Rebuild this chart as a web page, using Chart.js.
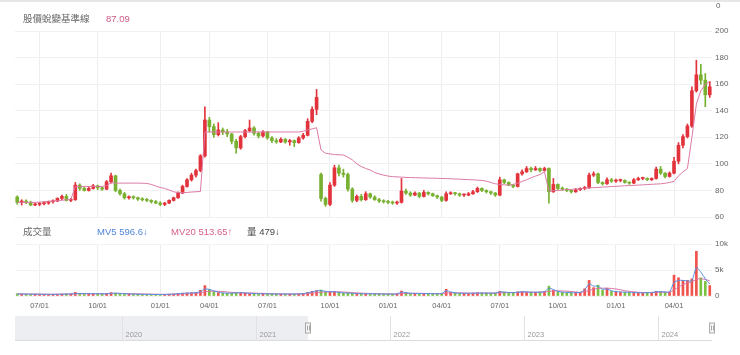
<!DOCTYPE html>
<html><head><meta charset="utf-8">
<script src="https://cdn.jsdelivr.net/npm/chart.js@4.4.1/dist/chart.umd.min.js"></script>
<style>
html,body{margin:0;padding:0;background:#fff;width:740px;height:355px;overflow:hidden;font-family:"Liberation Sans","Noto Sans CJK TC",sans-serif;}
canvas{position:absolute;left:0;}
.t{position:absolute;white-space:nowrap;font-size:9.5px;line-height:12px;}
</style></head><body>
<div style="position:absolute;left:0;top:0;width:740px;height:2px;background:#e6e6e6"></div>
<canvas id="price" width="740" height="225" style="top:0"></canvas>
<canvas id="vol" width="740" height="80" style="top:236px"></canvas>
<canvas id="nav" width="740" height="30" style="top:313px"></canvas>
<div class="t" style="left:716px;top:0px;font-size:8px;color:#666">0</div>
<div class="t" style="left:23px;top:13px;color:#666">股價蛻變基準線</div>
<div class="t" style="left:106px;top:13px;color:#cc5a86">87.09</div>
<div class="t" style="left:23px;top:226px;color:#666">成交量</div>
<div class="t" style="left:97px;top:226px;color:#4f86d8">MV5 596.6↓</div>
<div class="t" style="left:171px;top:226px;color:#d9608c">MV20 513.65↑</div>
<div class="t" style="left:247px;top:226px;color:#444">量 479↓</div>
<script>
const dates = [
'2021-05-28','2021-06-04','2021-06-11','2021-06-18','2021-06-25','2021-07-02','2021-07-09','2021-07-16','2021-07-23','2021-07-30',
'2021-08-06','2021-08-13','2021-08-20','2021-08-27','2021-09-03','2021-09-10','2021-09-17','2021-09-24','2021-10-01','2021-10-08',
'2021-10-15','2021-10-22','2021-10-29','2021-11-05','2021-11-12','2021-11-19','2021-11-26','2021-12-03','2021-12-10','2021-12-17',
'2021-12-24','2021-12-31','2022-01-07','2022-01-14','2022-01-21','2022-01-28','2022-02-11','2022-02-18','2022-02-25','2022-03-04',
'2022-03-11','2022-03-18','2022-03-25','2022-04-01','2022-04-08','2022-04-15','2022-04-22','2022-04-29','2022-05-06','2022-05-13',
'2022-05-20','2022-05-27','2022-06-03','2022-06-10','2022-06-17','2022-06-24','2022-07-01','2022-07-08','2022-07-15','2022-07-22',
'2022-07-29','2022-08-05','2022-08-12','2022-08-19','2022-08-26','2022-09-02','2022-09-09','2022-09-16','2022-09-23','2022-09-30',
'2022-10-07','2022-10-14','2022-10-21','2022-10-28','2022-11-04','2022-11-11','2022-11-18','2022-11-25','2022-12-02','2022-12-09',
'2022-12-16','2022-12-23','2022-12-30','2023-01-06','2023-01-13','2023-01-20','2023-02-03','2023-02-10','2023-02-17','2023-02-24',
'2023-03-03','2023-03-10','2023-03-17','2023-03-24','2023-03-31','2023-04-07','2023-04-14','2023-04-21','2023-04-28','2023-05-05',
'2023-05-12','2023-05-19','2023-05-26','2023-06-02','2023-06-09','2023-06-16','2023-06-23','2023-06-30','2023-07-07','2023-07-14',
'2023-07-21','2023-07-28','2023-08-04','2023-08-11','2023-08-18','2023-08-25','2023-09-01','2023-09-08','2023-09-15','2023-09-22',
'2023-09-29','2023-10-06','2023-10-13','2023-10-20','2023-10-27','2023-11-03','2023-11-10','2023-11-17','2023-11-24','2023-12-01',
'2023-12-08','2023-12-15','2023-12-22','2023-12-29','2024-01-05','2024-01-12','2024-01-19','2024-01-26','2024-02-02','2024-02-09',
'2024-02-16','2024-02-23','2024-03-01','2024-03-08','2024-03-15','2024-03-22','2024-03-29','2024-04-05','2024-04-12','2024-04-19',
'2024-04-26','2024-05-03','2024-05-10','2024-05-17','2024-05-24','2024-05-31'];
const tickLabels = ['07/01','10/01','01/01','04/01','07/01','10/01','01/01','04/01','07/01','10/01','01/01','04/01'];
const priceTicks = [60,80,100,120,140,160,180,200];
const volTicks = [0,5000,10000];
const volTickLabels = ['0','5k','10k'];
const openP = [
75,71,72,71,69,69.5,70,70.5,71.5,72,
74,75.5,72.5,73,84,81.5,80,81.5,83.5,82,
81,86.5,91,80,77.5,74.5,75,74.5,73.5,73,
72.5,71.5,70.5,69.5,70.5,72.5,74.5,78,83,88,
91.5,95,106,133,128,122,125.5,124,122.5,117,
112,120.5,125,127,123,121,124,119.5,117.5,116.5,
118.5,116.5,117.5,116,119.5,121.5,132,141,92,74,
69.5,84,97,93,92,81,72.5,75.5,73,77.5,
75,73,72,71.5,71,70.5,71,79.5,78,76.5,
78,75.5,78.5,77.5,76,75,72.5,77.5,78,77.5,
76.5,76.5,77.5,79,81.5,80,79,78,76.5,88,
86,84,83,92.5,94,96.5,95.5,96.5,95,96.5,
79,84.5,81.5,81,80,79,80.5,81.5,82,91.5,
92.5,86,85,88,87,87.5,87.5,86,85.5,88,
89,89,88,89,96,93,90.5,93,102,114,
120.5,128.5,155,167,163,152];
const highP = [
76,73,73,72,70.5,71,71.5,72,73,74.5,
76.5,77,74,86,85,82.5,82.5,84.5,84,82.5,
87.5,93,91.5,81,78.5,76,76,75,74.5,74,
73,72.5,71.5,71,73,75,79,84,89,93,
96,107,143,135,130,131,127,126,123,118.5,
121.5,126,133,128,124,125,124.5,120.5,119,119.5,
119,118.5,118,120.5,123,134,143,156,93,75,
86,99,99,96,93,82,76.5,77,79,78,
76,74,73,72.5,72,72,89,81,79,79,
78.5,80,79,78,76.5,75.5,79,79,78.5,78,
77.5,78.5,80,82.5,82,80.5,79.5,78.5,90,88.5,
86.5,84.5,93,95.5,98,97.5,98,97,97.5,97,
89,85,82.5,81.5,80.5,81.5,82,83,93,94,
93,86.5,89.5,89,88.5,88.5,88,86.5,89,90,
90,89.5,89.5,97.5,98,93.5,94,105,116,122,
130,158,178,175,168,162];
const lowP = [
69.5,69,70,68.5,68.5,68.5,69,69.5,70.5,71.5,
73,72,71.5,72.5,80,79.5,79.5,81,80.5,80,
80.5,85.5,79,76.5,73.5,73.5,73.5,72.5,72,71.5,
70.5,70,68.5,68.5,70,72,74,77.5,82.5,87,
90,94,105,124,120,121,122,120.5,115,108,
111,119.5,124,121.5,119.5,120,118.5,116,115.5,116,
115.5,114,113,115.5,118.5,121,131,137,72,68,
68.5,83,91,90,79.5,71,71.5,72,72.5,74,
72.5,71,70.5,70,69.5,69.5,70.5,77,75.5,76,
74.5,75,76.5,75.5,74,71.5,72,77,76.5,75.5,
75.5,76,77,78.5,79,78,77,75.5,76,85,
83.5,82,82.5,91.5,93.5,94,95,94,94.5,70.5,
78.5,80.5,80,79,78,78.5,80,80.5,81.5,90.5,
85,84,84.5,86,86,86.5,85.5,84.5,85,87.5,
88,87.5,87.5,88.5,92,89.5,90,92.5,100,112,
119.5,127.5,154,160,143,150];
const closeP = [
71,72,71,69,69.5,70,70.5,71.5,72,74,
75.5,72.5,73,84,81.5,80,81.5,83.5,82,81,
86.5,91,80,77.5,74.5,75,74.5,73.5,73,72.5,
71.5,70.5,69.5,70.5,72.5,74.5,78,83,88,91.5,
95,106,133,128,122,125.5,124,122.5,117,112,
120.5,125,127,123,121,124,119.5,117.5,116.5,118.5,
116.5,117.5,116,119.5,121.5,132,141,150,74,69.5,
84,97,93,92,81,72.5,75.5,73,77.5,75,
73,72,71.5,71,70.5,71,79.5,78,76.5,78,
75.5,78.5,77.5,76,75,72.5,77.5,78,77.5,76.5,
76.5,77.5,79,81.5,80,79,78,76.5,88,86,
84,83,92.5,94,96.5,95.5,96.5,95,96.5,79,
84.5,81.5,81,80,79,80.5,81.5,82,91.5,92.5,
86,85,88,87,87.5,87.5,86,85.5,88,89,
89,88,89,96,93,90.5,93,102,114,120.5,
128.5,155,167,163,152,158];
const baseline = [
71,71,71,71,71,71.2,71.5,71.8,72,72.3,
72.6,73,73.2,83,83,83,83,83,83,83,
83.5,85.8,85.6,85.5,85.5,85.5,85.5,85.5,85.4,85.3,
84.5,83.3,82.2,81.5,80.3,79,78.3,78.3,78.5,78.8,
79,79.2,124,124,124,124,124,124,124,124,
124,124,124,124,124,124,124,124,124,124,
124,124,124,124,124.5,125.5,126.3,127.2,110.4,108,
107.5,107,106.8,106.7,105,103,100,98,96.5,95.4,
93.5,92.4,91.5,90.8,90.4,90.2,90,89.8,89.7,89.6,
89.5,89.4,89.3,89.2,89.1,89,88.9,88.8,88.6,88.5,
88.3,88.1,88,87.7,87.5,87,86,85,84.5,84.2,
84,84.5,85.5,86.8,88,89.5,90.8,92,94,79.5,
79.8,80,80.3,80.6,80.8,81,81.3,81.6,81.9,82.1,
82.3,82.5,82.7,82.9,83.1,83.3,83.5,83.6,83.8,84,
84.2,84.4,84.6,84.8,85,85.4,86,86.8,91,94,
96.5,120,145,155,160,162];
const volume = [
420,380,350,330,360,340,320,300,320,350,
380,420,400,700,500,420,400,450,420,380,
500,650,550,420,380,350,330,320,300,300,
290,280,300,310,350,400,480,550,600,620,
700,1100,2000,1300,800,650,550,500,550,650,
700,550,500,450,420,430,400,380,370,380,
360,370,380,420,500,700,900,1050,1150,800,
750,900,650,550,600,500,450,420,450,430,
400,380,370,360,380,400,950,600,500,480,
460,480,450,440,430,500,1300,700,550,520,
500,520,550,600,580,560,540,560,900,750,
650,620,800,850,780,720,700,750,900,1900,
1100,800,700,650,620,640,700,1400,3000,1600,
2100,1100,1500,900,800,750,720,700,650,600,
620,650,700,900,850,750,800,4000,3500,3000,
3000,3300,8600,3500,2800,2000];
const mv5 = [
400,390,370,350,350,340,330,320,320,330,
350,380,400,470,500,480,460,450,440,420,
440,520,540,500,450,400,360,340,320,310,
300,290,290,300,330,370,440,500,560,600,
660,850,1350,1250,1000,750,600,540,540,600,
640,580,520,470,440,430,410,390,380,375,
370,370,375,400,460,620,820,980,1050,900,
800,820,700,600,580,520,470,440,440,430,
410,390,375,365,375,400,750,650,540,490,
470,470,455,445,435,480,1000,800,600,540,
510,515,540,580,580,565,550,555,780,760,
680,630,740,820,790,740,710,740,850,1500,
1250,900,750,680,640,640,680,1200,2300,1900,
1900,1300,1350,1000,850,780,740,710,670,620,
620,640,680,820,840,780,790,2600,3000,3000,
2900,3000,5400,4600,3300,2300];
const mv20 = [
380,380,375,370,365,360,350,345,340,340,
345,355,365,400,420,430,430,435,440,440,
445,470,490,490,480,460,440,420,400,380,
360,340,320,315,320,335,360,390,430,470,
520,620,820,900,920,900,850,780,700,660,
620,600,580,560,530,500,470,450,430,410,
400,390,385,390,410,460,540,630,720,780,
810,830,800,760,720,660,600,550,510,480,
460,440,425,410,400,395,460,500,510,520,
520,500,480,460,455,460,560,600,610,600,
580,560,545,545,550,555,560,560,600,630,
650,660,680,700,720,730,740,745,760,900,
960,980,970,930,870,780,700,800,1100,1300,
1450,1500,1500,1450,1350,1200,1000,900,800,720,
680,660,660,680,700,720,740,1200,1700,2200,
2500,2700,3200,3300,3200,2900];
const navYears = [2020,2021,2022,2023,2024];
const navRange = [2019.2, 2024.4];
const navSelection = [2021.387, 2024.4];

Chart.defaults.font.family = '"Liberation Sans","Noto Sans CJK TC",sans-serif';
const UP = '#e2333c', DOWN = '#78b030';
const isUp = closeP.map((c,i)=>c>=openP[i]);
const candleColors = isUp.map(u=>u?UP:DOWN);
const volColors = isUp.map(u=>u?'#f0524c':'#7cc242');
const quarterIdx = [];
dates.forEach((d,i)=>{
  if(i===0) return;
  const m = +d.slice(5,7), pm = +dates[i-1].slice(5,7);
  if([1,4,7,10].includes(m) && m!==pm) quarterIdx.push(i);
});
const xBase = {
  offset:true,
  grid:{offset:false,color:'#eeeeee',drawTicks:false},
  border:{display:false},
  afterBuildTicks:s=>{ s.ticks = s.ticks.filter(t=>quarterIdx.includes(t.value)); }
};

new Chart(document.getElementById('price'),{
  type:'bar',
  data:{labels:dates,datasets:[
    {type:'line',data:baseline,borderColor:'#dc7aa6',borderWidth:1,pointRadius:0,tension:0,order:0},
    {data:lowP.map((l,i)=>[l,highP[i]]),backgroundColor:candleColors,barThickness:1,grouped:false,order:2},
    {data:openP.map((o,i)=>[Math.min(o,closeP[i]),Math.max(o,closeP[i])]),backgroundColor:candleColors,barThickness:3,minBarLength:1,grouped:false,order:1}
  ]},
  options:{
    responsive:false,animation:false,devicePixelRatio:1,
    layout:{padding:{top:31,bottom:8,left:15,right:0}},
    plugins:{legend:{display:false},tooltip:{enabled:false}},
    scales:{
      x:Object.assign({},xBase,{ticks:{display:false,autoSkip:false},afterFit:s=>{s.height=0;}}),
      y:{position:'right',min:60,max:200,
        afterBuildTicks:s=>{s.ticks=priceTicks.map(v=>({value:v}));},
        grid:{color:'#f1f1f1',drawTicks:false},border:{display:false},
        ticks:{color:'#666',font:{size:8},padding:3},
        afterFit:s=>{s.width=28;}}
    }
  }
});

new Chart(document.getElementById('vol'),{
  type:'bar',
  data:{labels:dates,datasets:[
    {type:'line',data:mv5,borderColor:'#5a8ee0',borderWidth:1,pointRadius:0,tension:0.3,order:0},
    {type:'line',data:mv20,borderColor:'#d873a3',borderWidth:1,pointRadius:0,tension:0.3,order:0},
    {data:volume,backgroundColor:volColors,barThickness:2,order:1}
  ]},
  options:{
    responsive:false,animation:false,devicePixelRatio:1,
    layout:{padding:{top:8,bottom:0,left:15,right:0}},
    plugins:{legend:{display:false},tooltip:{enabled:false}},
    scales:{
      x:Object.assign({},xBase,{ticks:{color:'#666',font:{size:7.5},padding:5,autoSkip:false,maxRotation:0,
          callback:(v,i)=>tickLabels[i]},afterFit:s=>{s.height=20;}}),
      y:{position:'right',min:0,max:10000,
        afterBuildTicks:s=>{s.ticks=volTicks.map(v=>({value:v}));},
        grid:{color:'#f3f3f3',drawTicks:false},border:{display:false},
        ticks:{color:'#666',font:{size:8},padding:3,callback:v=>volTickLabels[volTicks.indexOf(v)]},
        afterFit:s=>{s.width=28;}}
    }
  }
});

const navPlugin = {
  id:'nav',
  beforeDraw(chart){
    const {ctx,chartArea:{left,right,top,bottom}} = chart;
    const x = chart.scales.x;
    const xs = x.getPixelForValue(navSelection[0]);
    const xe = x.getPixelForValue(navSelection[1]);
    ctx.save();
    ctx.fillStyle = '#eceef1';
    ctx.fillRect(left,top,xs-left,bottom-top);
    ctx.strokeStyle = '#dcdcdc'; ctx.lineWidth = 1;
    ctx.beginPath(); ctx.moveTo(left,bottom+0.5); ctx.lineTo(right,bottom+0.5); ctx.stroke();
    ctx.font = '7.5px "Liberation Sans",sans-serif';
    ctx.textBaseline = 'alphabetic';
    navYears.forEach(yr=>{
      const px = Math.round(x.getPixelForValue(yr))+0.5;
      ctx.strokeStyle = '#e2e2e2';
      ctx.beginPath(); ctx.moveTo(px,top); ctx.lineTo(px,bottom); ctx.stroke();
      ctx.fillStyle = '#999';
      ctx.fillText(String(yr),px+3,bottom-3);
    });
    [xs,xe].forEach(hx=>{
      const cy = (top+bottom)/2;
      ctx.fillStyle = '#f7f7f7'; ctx.strokeStyle = '#a8a8a8';
      ctx.fillRect(Math.round(hx)-2.5,cy-5,5,10);
      ctx.strokeRect(Math.round(hx)-2.5,cy-5,5,10);
      ctx.beginPath(); ctx.moveTo(Math.round(hx)-0.5,cy-2.5); ctx.lineTo(Math.round(hx)-0.5,cy+2.5);
      ctx.moveTo(Math.round(hx)+1.5,cy-2.5); ctx.lineTo(Math.round(hx)+1.5,cy+2.5); ctx.stroke();
    });
    ctx.restore();
  }
};
new Chart(document.getElementById('nav'),{
  type:'line',
  data:{datasets:[]},
  options:{
    responsive:false,animation:false,devicePixelRatio:1,
    layout:{padding:{top:3,bottom:3,left:15,right:28}},
    plugins:{legend:{display:false},tooltip:{enabled:false}},
    scales:{x:{type:'linear',min:navRange[0],max:navRange[1],display:false},y:{display:false,min:0,max:1}}
  },
  plugins:[navPlugin]
});
</script>
</body></html>
